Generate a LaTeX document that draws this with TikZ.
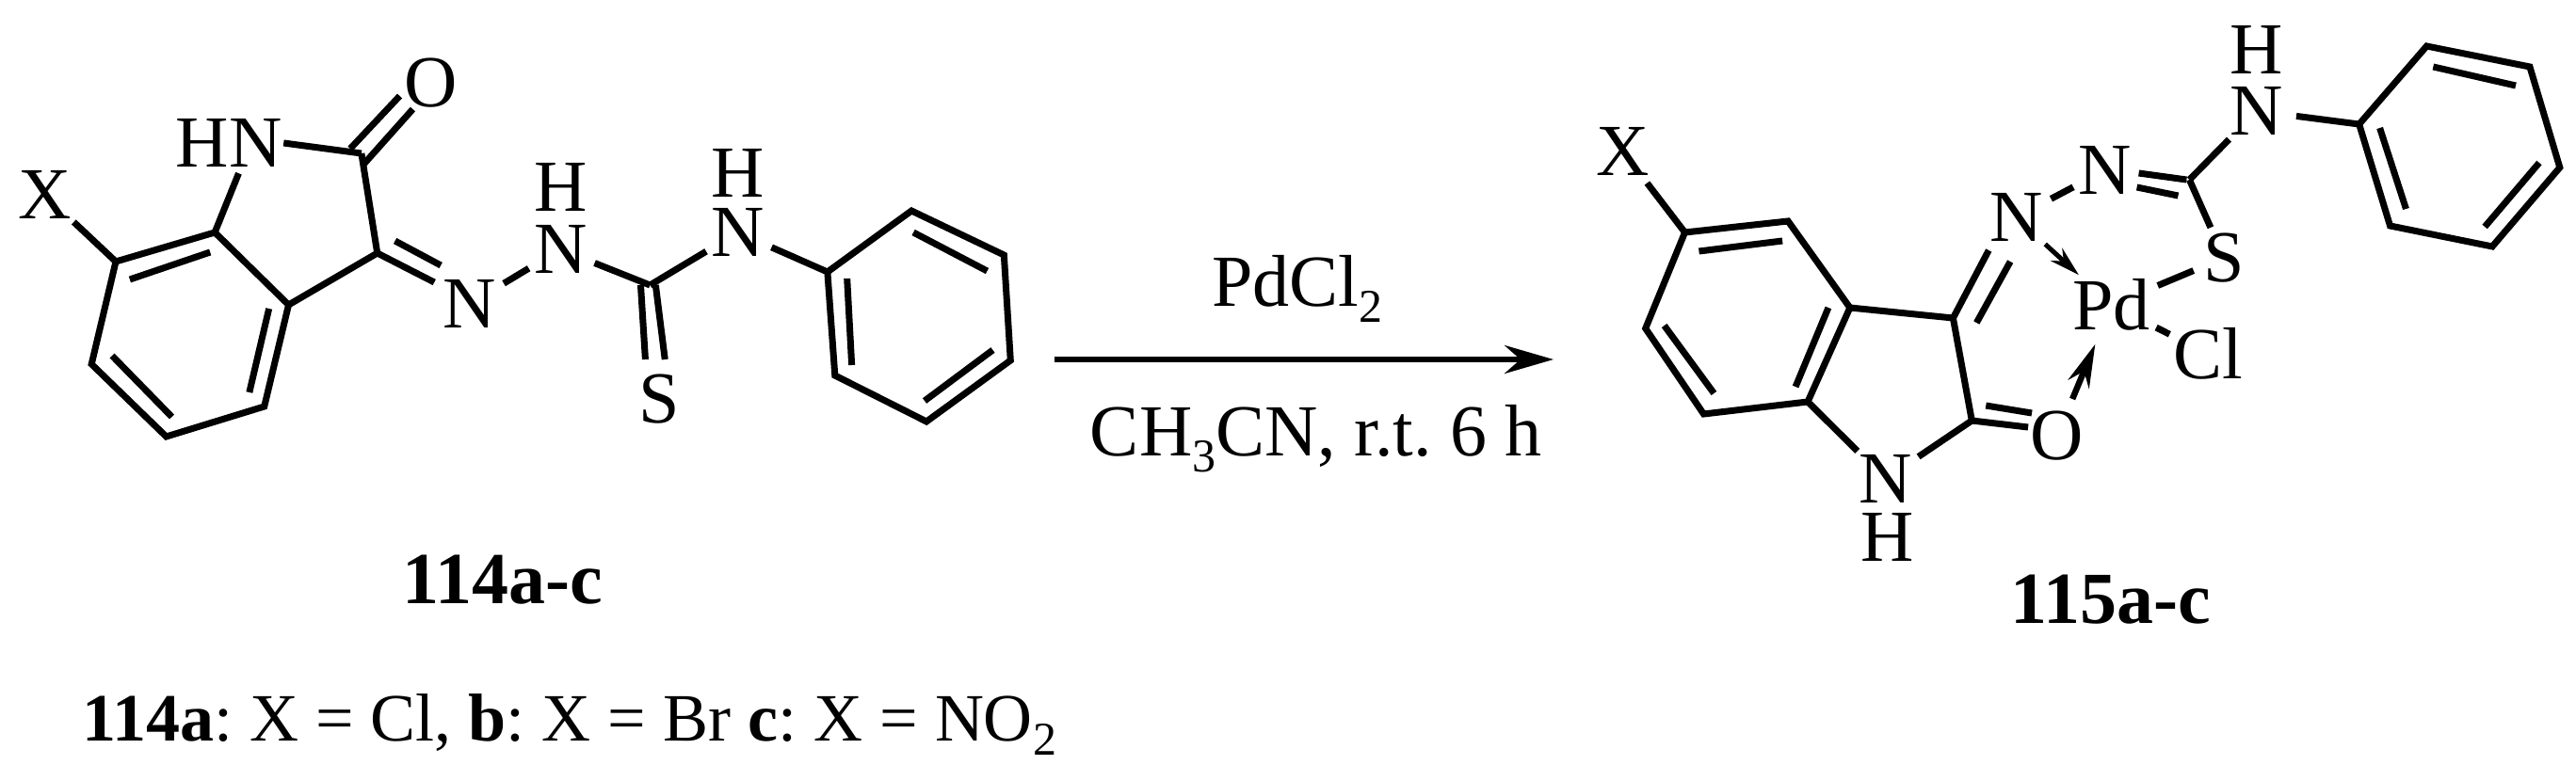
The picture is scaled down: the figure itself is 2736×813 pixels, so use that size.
\documentclass[tikz,border=0pt]{standalone}
\usepackage{fontspec}
\setmainfont{Liberation Serif}
\usetikzlibrary{arrows.meta}
\newcommand{\subsc}[1]{\raisebox{-0.22em}{\fontsize{50}{50}\selectfont #1}}
\frenchspacing
\tikzset{
  x=1pt,y=-1pt,
  bond/.style={line width=7pt,line cap=butt,line join=miter,black},
  atom/.style={circle,inner sep=0pt,minimum size=#1,font=\fontsize{78}{80}\selectfont},
  atom/.default=84pt,
  txt/.style={inner sep=0pt,font=\fontsize{78}{80}\selectfont},
  btxt/.style={inner sep=0pt,font=\fontsize{78}{80}\selectfont\bfseries},
  ltxt/.style={inner sep=0pt,font=\fontsize{72}{80}\selectfont},
  coord/.style={line width=6.5pt,shorten >=-8pt,-{Stealth[length=46pt,width=24pt]}},
  coords/.style={line width=5pt,shorten >=-6pt,-{Stealth[length=32pt,width=18pt]}},
}
\begin{document}
\begin{tikzpicture}
\useasboundingbox (0,0) rectangle (2736,813);
\begin{scope}[xscale=0.992]
% ---- left molecule atoms
\coordinate (La) at (124,278);
\coordinate (Lb) at (230,247);
\coordinate (Lc) at (309,324);
\coordinate (Ld) at (283,432);
\coordinate (Le) at (178,464);
\coordinate (Lf) at (98,387);
\coordinate (Lg) at (404,269);
\coordinate (Lh) at (387,163);
\coordinate (Li) at (696,303);
\coordinate (P1) at (886,289);
\coordinate (P2) at (976,224);
\coordinate (P3) at (1075,271);
\coordinate (P4) at (1082,383);
\coordinate (P5) at (992,448);
\coordinate (P6) at (894,399);
\node[atom] (LX) at (48,207) {X};
\node[inner sep=0pt,font=\fontsize{78}{80}\selectfont,minimum width=116pt,minimum height=64pt] (LHN) at (245,152) {HN};
\node[atom] (LO) at (461,88) {O};
\node[atom] (LN1) at (503,323) {N};
\node[atom=78pt] (LN2) at (600,265) {N};
\node[atom] (LH2) at (600,199) {H};
\node[atom=78pt] (LN3) at (790,247) {N};
\node[atom] (LH3) at (790,184) {H};
\node[atom] (LS) at (706,424) {S};
% double-bond side lines
\coordinate (Ldo1) at (375,158); \coordinate (Ldo2) at (428,102);
\coordinate (Ldo3) at (389,175); \coordinate (Ldo4) at (442,116);
\coordinate (Ldn1) at (465,300);
\coordinate (Ldn2) at (423,256); \coordinate (Ldn3) at (472,282);
\coordinate (Lds1) at (686,303); \coordinate (Lds2) at (691,382);
\coordinate (Lds3) at (702,303); \coordinate (Lds4) at (712,382);
\coordinate (Li1) at (139,297); \coordinate (Li2) at (225,268);
\coordinate (Li3) at (288,328); \coordinate (Li4) at (267,417);
\coordinate (Li5) at (184,443); \coordinate (Li6) at (120,378);
\coordinate (Pi1) at (978,247); \coordinate (Pi2) at (1057,288);
\coordinate (Pi3) at (1063,372); \coordinate (Pi4) at (990,426);
\coordinate (Pi5) at (912,388); \coordinate (Pi6) at (907,296);
\draw[bond] (La) -- (Lb) -- (Lc) -- (Ld) -- (Le) -- (Lf) -- cycle;
\draw[bond] (Lc) -- (Lg) -- (Lh);
\draw[bond] (P1) -- (P2) -- (P3) -- (P4) -- (P5) -- (P6) -- cycle;
\draw[bond] (La) -- (LX);
\draw[bond] (Lb) -- (LHN.-72);
\draw[bond] (LHN.east) -- (Lh);
\draw[bond] (Ldo1) -- (Ldo2);
\draw[bond] (Ldo3) -- (Ldo4);
\draw[bond] (Lg) -- (Ldn1);
\draw[bond] (Ldn2) -- (Ldn3);
\draw[bond] (LN1) -- (LN2);
\draw[bond] (LN2) -- (Li);
\draw[bond] (Li) -- (LN3);
\draw[bond] (LN3) -- (P1);
\draw[bond] (Lds1) -- (Lds2);
\draw[bond] (Lds3) -- (Lds4);
\foreach \p/\q in {Li1/Li2,Li3/Li4,Li5/Li6,Pi1/Pi2,Pi3/Pi4,Pi5/Pi6}
  \draw[bond] (\p) -- (\q);
\end{scope}
% ---- reaction arrow
\coordinate (Aa) at (1120,382);
\coordinate (Ab) at (1650,382);
\draw[line width=6pt,-{Stealth[length=52pt,width=30pt]}] (Aa) -- (Ab);
\node[txt] (PdCl) at (1378,307) {PdCl\subsc{2}};
\node[txt] (Solv) at (1398,466) {CH\subsc{3}CN, r.t. 6 h};
% ---- right molecule atoms
\begin{scope}[xshift=6.72pt,xscale=0.996]
\coordinate (Ra) at (1790,247);
\coordinate (Rb) at (1900,235);
\coordinate (Rc) at (1966,327);
\coordinate (Rd) at (1921,427);
\coordinate (Re) at (1810,440);
\coordinate (Rf) at (1748,349);
\coordinate (Rg) at (2076,338);
\coordinate (Rh) at (2096,447);
\coordinate (Rj) at (2328,191);
\coordinate (Q1) at (2509,132);
\coordinate (Q2) at (2581,49);
\coordinate (Q3) at (2691,71);
\coordinate (Q4) at (2723,178);
\coordinate (Q5) at (2651,262);
\coordinate (Q6) at (2542,240);
\node[atom] (RX) at (1724,161) {X};
\node[atom] (RO) at (2187,463) {O};
\node[atom] (RN) at (2004,509) {N};
\node[atom] (RH) at (2006,571) {H};
\node[atom] (RN1) at (2143,231) {N};
\node[atom=66pt] (RN2) at (2238,181) {N};
\node[atom] (RN3) at (2400,118) {N};
\node[atom] (RH3) at (2400,53) {H};
\node[atom=70pt] (RS) at (2365,274) {S};
\node[atom=106pt] (RPd) at (2245,324) {Pd};
\node[atom=76pt] (RCl) at (2348,376) {Cl};
\coordinate (Rdo1) at (2156,454);
\coordinate (Rdo2) at (2111,431); \coordinate (Rdo3) at (2160,439);
\coordinate (Rdn1) at (2114,266);
\coordinate (Rdn2) at (2101,343); \coordinate (Rdn3) at (2137,278);
\coordinate (Rdm1) at (2325,191); \coordinate (Rdm2) at (2274,184);
\coordinate (Rdm3) at (2316,208); \coordinate (Rdm4) at (2272,199);
\coordinate (Ri1) at (1805,267); \coordinate (Ri2) at (1894,256);
\coordinate (Ri3) at (1943,327); \coordinate (Ri4) at (1908,411);
\coordinate (Ri5) at (1821,418); \coordinate (Ri6) at (1768,346);
\coordinate (Qi1) at (2588,71); \coordinate (Qi2) at (2676,91);
\coordinate (Qi3) at (2701,173); \coordinate (Qi4) at (2643,241);
\coordinate (Qi5) at (2559,222); \coordinate (Qi6) at (2531,136);
\draw[bond] (Ra) -- (Rb) -- (Rc) -- (Rd) -- (Re) -- (Rf) -- cycle;
\draw[bond] (Rc) -- (Rg) -- (Rh);
\draw[bond] (Q1) -- (Q2) -- (Q3) -- (Q4) -- (Q5) -- (Q6) -- cycle;
\draw[bond] (Ra) -- (RX);
\draw[bond] (Rd) -- (RN);
\draw[bond] (Rh) -- (RN);
\draw[bond] (Rh) -- (Rdo1);
\draw[bond] (Rdo2) -- (Rdo3);
\draw[bond] (Rg) -- (Rdn1);
\draw[bond] (Rdn2) -- (Rdn3);
\draw[bond] (RN1) -- (RN2);
\draw[bond] (Rdm1) -- (Rdm2);
\draw[bond] (Rdm3) -- (Rdm4);
\draw[bond] (Rj) -- (RN3);
\draw[bond] (RN3) -- (Q1);
\draw[bond] (Rj) -- (RS);
\draw[bond] (RS) -- (RPd);
\draw[bond] (RPd) -- (RCl);
\foreach \p/\q in {Ri1/Ri2,Ri3/Ri4,Ri5/Ri6,Qi1/Qi2,Qi3/Qi4,Qi5/Qi6}
  \draw[bond] (\p) -- (\q);
\draw[coords] (RN1) -- (RPd);
\draw[coord] (RO) -- (RPd);
\end{scope}
% ---- captions
\node[btxt] (Cap1) at (534,616) {114a-c};
\node[btxt] (Cap2) at (2242,637) {115a-c};
\node[ltxt,anchor=west] (Legend) at (87,770) {\textbf{114a}: X = Cl, \textbf{b}: X = Br \textbf{c}: X = NO\subsc{2}};
\end{tikzpicture}
\end{document}
